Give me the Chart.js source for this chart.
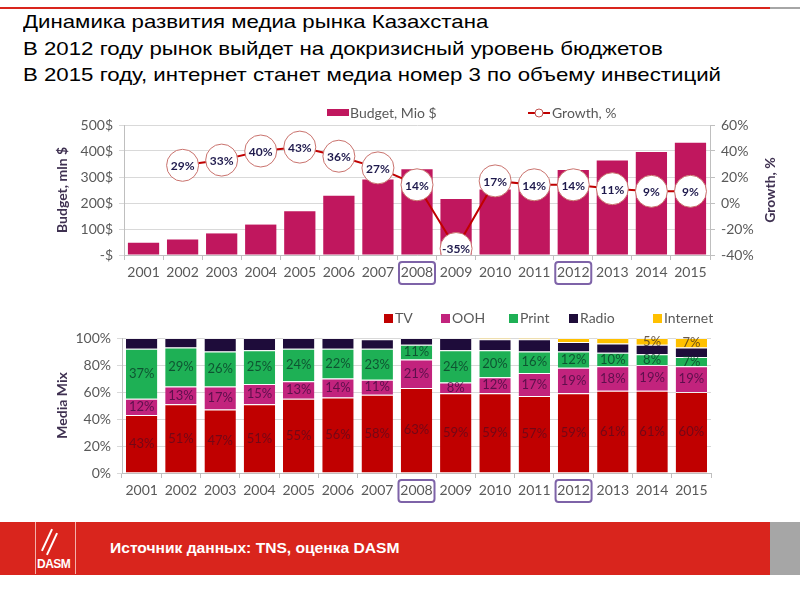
<!DOCTYPE html>
<html>
<head>
<meta charset="utf-8">
<script src="https://cdn.jsdelivr.net/npm/chart.js@4"></script>
<style>
  body { margin: 0; width: 800px; height: 600px; background: #fff; position: relative; overflow: hidden; font-family: "Liberation Sans", Arial, sans-serif; }
  .topline { position: absolute; left: 0; top: 7px; width: 770px; height: 2px; background: #d9251d; }
  .topgray { position: absolute; left: 770px; top: 7px; width: 30px; height: 2px; background: #a6a6a6; }
  .title { position: absolute; left: 23px; top: 9px; font-size: 19px; line-height: 26.5px; color: #000; white-space: nowrap; transform: scaleX(1.17); transform-origin: left top; }
  #budgetBox { position: absolute; left: 0; top: 95px; width: 800px; height: 200px; }
  #mixBox { position: absolute; left: 0; top: 300px; width: 800px; height: 210px; }
  .footer { position: absolute; left: 0; top: 522px; width: 770px; height: 53px; background: #d9251d; }
  .footgray { position: absolute; left: 770px; top: 522px; width: 30px; height: 53px; background: #a6a6a6; }
  .logo { position: absolute; left: 35px; top: 522px; width: 39px; height: 52px; border-left: 1px solid #f3b0aa; border-right: 1px solid #f3b0aa; }
  .logo span { position: absolute; left: 1px; bottom: 3px; color: #fff; font-weight: bold; font-size: 12px; letter-spacing: -0.5px; }
  .logo i { position: absolute; top: 6px; width: 2px; height: 24px; background: #fff; transform: rotate(25deg); }
  .source { position: absolute; left: 110px; top: 539px; color: #fff; font-weight: bold; font-size: 15px; transform: scaleX(1.04); transform-origin: left top; }
</style>
</head>
<body>
<div class="topline"></div><div class="topgray"></div>
<div class="title">Динамика развития медиа рынка Казахстана<br>В 2012 году рынок выйдет на докризисный уровень бюджетов<br>В 2015 году, интернет станет медиа номер 3 по объему инвестиций</div>
<div id="budgetBox"><canvas id="budgetChart"></canvas></div>
<div id="mixBox"><canvas id="mixChart"></canvas></div>
<div class="footer"></div><div class="footgray"></div>
<div class="logo"><i style="left:10px"></i><i style="left:15px; top:10px"></i><span>DASM</span></div>
<div class="source">Источник данных: TNS, оценка DASM</div>
<script>
const years = ["2001", "2002", "2003", "2004", "2005", "2006", "2007", "2008", "2009", "2010", "2011", "2012", "2013", "2014", "2015"];
const boxedYears = ["2008", "2012"];
const budget = [47, 60, 83, 117, 168, 228, 290, 330, 215, 252, 287, 327, 363, 396, 432];
const growth = [null, 29, 33, 40, 43, 36, 27, 14, -35, 17, 14, 14, 11, 9, 9];
const tvShare = [43, 51, 47, 51, 55, 56, 58, 63, 59, 59, 57, 59, 61, 61, 60];
const oohShare = [12, 13, 17, 15, 13, 14, 11, 21, 8, 12, 17, 19, 18, 19, 19];
const printShare = [37, 29, 26, 25, 24, 22, 23, 11, 24, 20, 16, 12, 10, 8, 7];
const radioShare = [8, 7, 10, 9, 8, 8, 7, 5, 9, 8, 9, 7, 7, 7, 7];
const internetShare = [0, 0, 0, 0, 0, 0, 0, 0, 0, 1, 1, 3, 4, 5, 7];

const FONT = "Lato, 'Open Sans', sans-serif";
const GRAY = "#595959";
const AXIS_TITLE = "#3f3151";
Chart.defaults.font.family = FONT;
Chart.defaults.color = GRAY;
Chart.defaults.animation = false;

function boxYears(chart) {
  const ctx = chart.ctx;
  const x = chart.scales.x;
  ctx.save();
  ctx.strokeStyle = "#7e63a8";
  ctx.lineWidth = 2;
  boxedYears.forEach(y => {
    const cx = x.getPixelForValue(years.indexOf(y));
    const top = x.top + 7;
    ctx.beginPath();
    ctx.roundRect(cx - 18, top, 36, 22, 3);
    ctx.stroke();
  });
  ctx.restore();
}

function vText(ctx, text, x, y) {
  ctx.save();
  ctx.translate(x, y);
  ctx.rotate(-Math.PI / 2);
  ctx.textAlign = "center";
  ctx.textBaseline = "middle";
  ctx.fillText(text, 0, 0);
  ctx.restore();
}

const budgetDecor = {
  id: "budgetDecor",
  afterDatasetsDraw(chart) {
    const ctx = chart.ctx;
    const meta = chart.getDatasetMeta(0);
    ctx.save();
    ctx.font = "bold 12px " + FONT;
    ctx.fillStyle = "#1f1a4d";
    ctx.textAlign = "center";
    ctx.textBaseline = "middle";
    meta.data.forEach((pt, i) => {
      if (growth[i] === null) return;
      ctx.fillText(growth[i] + "%", pt.x, pt.y + 1);
    });
    ctx.restore();
  },
  afterDraw(chart) {
    const ctx = chart.ctx;
    const area = chart.chartArea;
    const mid = (area.top + area.bottom) / 2;
    ctx.save();
    ctx.font = "bold 14px " + FONT;
    ctx.fillStyle = AXIS_TITLE;
    vText(ctx, "Budget, mln $", 62, mid);
    vText(ctx, "Growth, %", 770, mid);
    // legend
    ctx.font = "14px " + FONT;
    ctx.textBaseline = "middle";
    ctx.fillStyle = "#c0175e";
    ctx.fillRect(327, 14, 22, 7);
    ctx.fillStyle = GRAY;
    ctx.fillText("Budget, Mio $", 350, 18);
    ctx.strokeStyle = "#c00000";
    ctx.lineWidth = 2;
    ctx.beginPath(); ctx.moveTo(528, 18); ctx.lineTo(550, 18); ctx.stroke();
    ctx.fillStyle = "#fff";
    ctx.lineWidth = 1;
    ctx.strokeStyle = "#c0504d";
    ctx.beginPath(); ctx.arc(539, 18, 4, 0, Math.PI * 2); ctx.fill(); ctx.stroke();
    ctx.fillStyle = GRAY;
    ctx.fillText("Growth, %", 552, 18);
    ctx.restore();
    boxYears(chart);
  }
};

new Chart(document.getElementById("budgetChart"), {
  type: "bar",
  data: {
    labels: years,
    datasets: [
      {
        type: "line",
        label: "Growth, %",
        data: growth,
        yAxisID: "y1",
        order: 0,
        borderColor: "#c00000",
        borderWidth: 2,
        pointRadius: 16,
        pointBackgroundColor: "#fff",
        pointBorderColor: "#c9726d",
        pointBorderWidth: 1
      },
      {
        label: "Budget, Mio $",
        data: budget,
        yAxisID: "y",
        order: 1,
        backgroundColor: "#c0175e",
        barPercentage: 0.8,
        categoryPercentage: 1
      }
    ]
  },
  options: {
    responsive: true,
    maintainAspectRatio: false,
    layout: { padding: { top: 30, right: 0, bottom: 0, left: 0 } },
    plugins: { legend: { display: false }, tooltip: { enabled: false } },
    scales: {
      x: {
        grid: { drawOnChartArea: false, tickLength: 5, color: "#bfbfbf" },
        border: { color: "#bfbfbf" },
        ticks: { font: { size: 14 }, color: GRAY, padding: 4, maxRotation: 0 },
        afterFit(s) { s.height = 40; }
      },
      y: {
        position: "left",
        min: 0, max: 500,
        ticks: { stepSize: 100, font: { size: 14 }, color: GRAY, padding: 6, callback: v => v === 0 ? "-$" : v + "$" },
        grid: { color: "#d9d9d9", tickLength: 5 },
        border: { color: "#bfbfbf" },
        afterFit(s) { s.width = 124; }
      },
      y1: {
        position: "right",
        min: -40, max: 60,
        ticks: { stepSize: 20, font: { size: 14 }, color: GRAY, padding: 6, callback: v => v + "%" },
        grid: { drawOnChartArea: false, tickLength: 5, color: "#bfbfbf" },
        border: { color: "#bfbfbf" },
        afterFit(s) { s.width = 90; }
      }
    }
  },
  plugins: [budgetDecor]
});

const mixSeries = [
  { label: "TV", data: tvShare, color: "#c00000", text: "rgba(90,10,30,0.75)", show: v => true },
  { label: "OOH", data: oohShare, color: "#c2237d", text: "rgba(60,10,60,0.75)", show: v => true },
  { label: "Print", data: printShare, color: "#1eb055", text: "rgba(10,60,40,0.8)", show: v => true },
  { label: "Radio", data: radioShare, color: "#1e0c3a", text: "#fff", show: v => false },
  { label: "Internet", data: internetShare, color: "#ffc000", text: "rgba(70,50,30,0.8)", show: v => v >= 5 }
];
const legendX = [384, 441, 509, 569, 653];

const mixDecor = {
  id: "mixDecor",
  afterDatasetsDraw(chart) {
    const ctx = chart.ctx;
    ctx.save();
    ctx.font = "13px " + FONT;
    ctx.textAlign = "center";
    ctx.textBaseline = "middle";
    mixSeries.forEach((s, di) => {
      const meta = chart.getDatasetMeta(di);
      ctx.fillStyle = s.text;
      meta.data.forEach((bar, i) => {
        const v = s.data[i];
        if (!s.show(v)) return;
        ctx.fillText(v + "%", bar.x, (bar.y + bar.base) / 2);
      });
    });
    ctx.restore();
  },
  afterDraw(chart) {
    const ctx = chart.ctx;
    const area = chart.chartArea;
    ctx.save();
    ctx.font = "bold 14px " + FONT;
    ctx.fillStyle = AXIS_TITLE;
    vText(ctx, "Media Mix", 62, (area.top + area.bottom) / 2);
    ctx.font = "14px " + FONT;
    ctx.textBaseline = "middle";
    mixSeries.forEach((s, i) => {
      ctx.fillStyle = s.color;
      ctx.fillRect(legendX[i], 14, 9, 9);
      ctx.fillStyle = GRAY;
      ctx.fillText(s.label, legendX[i] + 11, 18);
    });
    ctx.restore();
    boxYears(chart);
  }
};

new Chart(document.getElementById("mixChart"), {
  type: "bar",
  data: {
    labels: years,
    datasets: mixSeries.map(s => ({
      label: s.label,
      data: s.data,
      backgroundColor: s.color,
      borderColor: "rgba(255,255,255,0.6)",
      borderWidth: { top: 1, bottom: 0, left: 0, right: 0 },
      barPercentage: 0.8,
      categoryPercentage: 1
    }))
  },
  options: {
    responsive: true,
    maintainAspectRatio: false,
    layout: { padding: { top: 38, right: 89, bottom: 0, left: 0 } },
    plugins: { legend: { display: false }, tooltip: { enabled: false } },
    scales: {
      x: {
        stacked: true,
        grid: { drawOnChartArea: false, tickLength: 5, color: "#bfbfbf" },
        border: { color: "#bfbfbf" },
        ticks: { font: { size: 14 }, color: GRAY, padding: 4, maxRotation: 0 },
        afterFit(s) { s.height = 37; }
      },
      y: {
        stacked: true,
        min: 0, max: 100,
        ticks: { stepSize: 20, font: { size: 14 }, color: GRAY, padding: 6, callback: v => v + "%" },
        grid: { color: "#d9d9d9", tickLength: 5 },
        border: { color: "#bfbfbf" },
        afterFit(s) { s.width = 122; }
      }
    }
  },
  plugins: [mixDecor]
});
</script>
</body>
</html>
